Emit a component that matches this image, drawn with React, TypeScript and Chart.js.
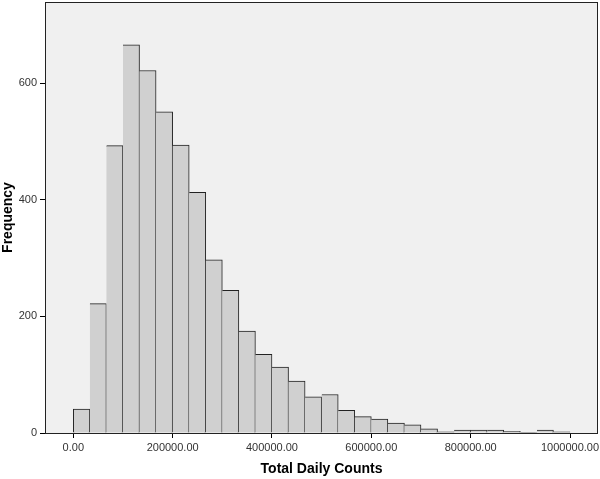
import React, { useEffect, useRef } from 'react';
import { Chart, registerables } from 'chart.js';

Chart.register(...registerables);

// Histogram bins: 30 bins of equal width from 0 to 1,000,000
const binStart = 0;
const binWidth = 1000000 / 30;
const frequencies = [
  41, 222, 493, 666, 622, 551, 494, 413, 297, 245,
  175, 135, 113, 89, 62, 66, 39, 28, 24, 17,
  14, 7, 2, 5, 5, 5, 3, 1, 5, 2,
];

const xTickValues = [0, 200000, 400000, 600000, 800000, 1000000];
const xTickLabels = ['0.00', '200000.00', '400000.00', '600000.00', '800000.00', '1000000.00'];
const yTickValues = [0, 200, 400, 600];
const yTickLabels = ['0', '200', '400', '600'];

const xTitle = 'Total Daily Counts';
const yTitle = 'Frequency';

const FONT = "'Liberation Sans', Arial, sans-serif";

const plotFrame = {
  id: 'plotFrame',
  beforeDraw(chart: any) {
    const { ctx, chartArea } = chart;
    ctx.save();
    ctx.fillStyle = '#f0f0f0';
    ctx.fillRect(chartArea.left, chartArea.top, chartArea.right - chartArea.left, chartArea.bottom - chartArea.top);
    ctx.restore();
  },
  afterDraw(chart: any) {
    const { ctx, chartArea } = chart;
    const x0 = Math.floor(chartArea.left) + 0.5;
    const y0 = Math.floor(chartArea.top) + 0.5;
    const x1 = Math.floor(chartArea.right) - 0.5;
    const y1 = Math.floor(chartArea.bottom) + 0.5;
    ctx.save();
    ctx.strokeStyle = '#222';
    ctx.lineWidth = 1;
    ctx.strokeRect(x0, y0, x1 - x0, y1 - y0);
    ctx.restore();
  },
};

export default function App() {
  const canvasRef = useRef<HTMLCanvasElement | null>(null);

  useEffect(() => {
    document.body.style.margin = '0';
    const canvas = canvasRef.current;
    if (!canvas) return;
    const points = frequencies.map((f, i) => ({ x: binStart + binWidth * (i + 0.5), y: f }));
    const chart = new Chart(canvas, {
      type: 'bar',
      data: {
        datasets: [
          {
            data: points as any,
            backgroundColor: '#d0d0d0',
            borderColor: '#222',
            borderWidth: ((ctx: any) => ({ top: 1, right: 1, bottom: 0, left: ctx.dataIndex === 0 ? 1 : 0 })) as any,
            borderSkipped: false,
            barPercentage: 1,
            categoryPercentage: 1,
          },
        ],
      },
      options: {
        animation: false,
        responsive: false,
        layout: { padding: { top: 2, right: 2, left: 0, bottom: 0 } },
        plugins: { legend: { display: false }, tooltip: { enabled: false } },
        scales: {
          x: {
            type: 'linear',
            offset: false,
            min: -56976,
            max: 1056372,
            afterBuildTicks: (scale: any) => {
              scale.ticks = xTickValues.map((v) => ({ value: v }));
            },
            afterFit: (scale: any) => {
              scale.height = 46;
              scale.paddingLeft = 0;
              scale.paddingRight = 0;
            },
            ticks: {
              autoSkip: false,
              maxRotation: 0,
              minRotation: 0,
              padding: 3,
              color: '#333',
              font: { family: FONT, size: 11 },
              callback: (value: any) => {
                const i = xTickValues.indexOf(Number(value));
                return i >= 0 ? xTickLabels[i] : '';
              },
            },
            grid: { display: true, offset: false, drawOnChartArea: false, drawTicks: true, tickLength: 5, color: '#000' },
            border: { display: false },
            title: {
              display: true,
              text: xTitle,
              color: '#000',
              font: { family: FONT, size: 14, weight: 'bold' },
              padding: { top: 4, bottom: 1 },
            },
          },
          y: {
            type: 'linear',
            min: 0,
            max: 739.5,
            afterBuildTicks: (scale: any) => {
              scale.ticks = yTickValues.map((v) => ({ value: v }));
            },
            afterFit: (scale: any) => {
              scale.width = 45;
              scale.paddingTop = 0;
              scale.paddingBottom = 0;
            },
            ticks: {
              padding: 3,
              color: '#333',
              font: { family: FONT, size: 11 },
              callback: (value: any) => {
                const i = yTickValues.indexOf(Number(value));
                return i >= 0 ? yTickLabels[i] : '';
              },
            },
            grid: { display: true, drawOnChartArea: false, drawTicks: true, tickLength: 5, color: '#000' },
            border: { display: false },
            title: {
              display: true,
              text: yTitle,
              color: '#000',
              font: { family: FONT, size: 14, weight: 'bold' },
              padding: { top: 0, bottom: 0 },
            },
          },
        },
      },
      plugins: [plotFrame],
    } as any);
    return () => chart.destroy();
  }, []);

  return (
    <div style={{ position: 'absolute', left: 0, top: 0, width: 600, height: 479 }}>
      <canvas ref={canvasRef} width={600} height={479} style={{ display: 'block' }} />
    </div>
  );
}
